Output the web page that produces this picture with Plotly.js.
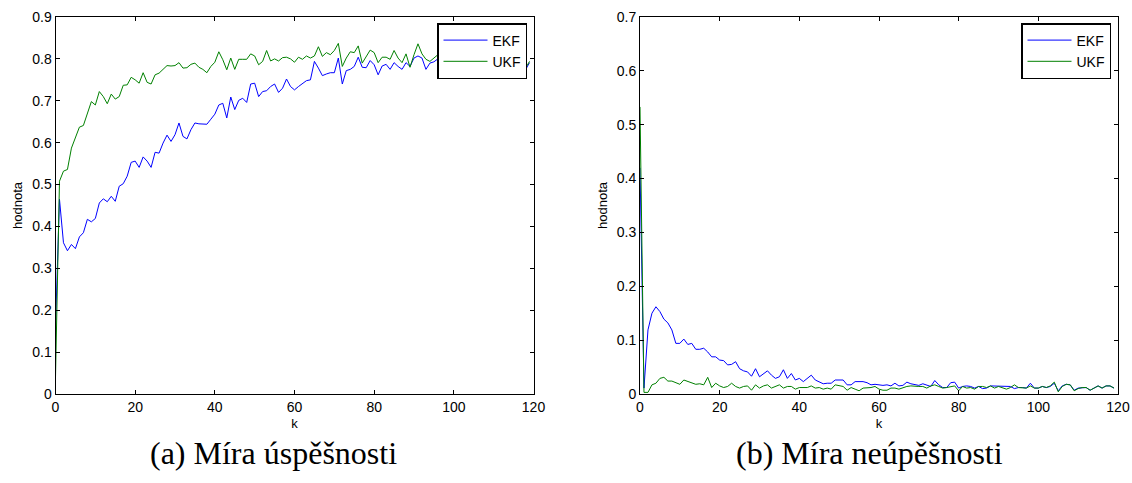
<!DOCTYPE html>
<html>
<head>
<meta charset="utf-8">
<script src="https://cdn.plot.ly/plotly-3.0.1.min.js"></script>
<style>
html,body{margin:0;padding:0;background:#fff;}
#chart{width:1132px;height:483px;}
</style>
</head>
<body>
<div id="chart"></div>
<script>
// k index (time step)
const k = [
  0,1,2,3,4,5,6,7,8,9,10,11,12,13,14,15,16,17,18,19,
  20,21,22,23,24,25,26,27,28,29,30,31,32,33,34,35,36,37,38,39,
  40,41,42,43,44,45,46,47,48,49,50,51,52,53,54,55,56,57,58,59,
  60,61,62,63,64,65,66,67,68,69,70,71,72,73,74,75,76,77,78,79,
  80,81,82,83,84,85,86,87,88,89,90,91,92,93,94,95,96,97,98,99,
  100,101,102,103,104,105,106,107,108,109,110,111,112,113,114,115,116,117,118,119
];

// (a) Míra úspěšnosti
const ekfSuccess = [
  0.160,0.465,0.361,0.342,0.357,0.347,0.375,0.385,0.417,0.411,
  0.419,0.456,0.466,0.459,0.472,0.460,0.496,0.502,0.520,0.553,
  0.556,0.541,0.566,0.556,0.541,0.577,0.575,0.599,0.618,0.603,
  0.619,0.647,0.615,0.609,0.631,0.647,0.645,0.644,0.644,0.656,
  0.668,0.690,0.694,0.659,0.709,0.679,0.701,0.706,0.696,0.740,
  0.742,0.710,0.722,0.724,0.734,0.740,0.720,0.730,0.752,0.734,
  0.726,0.734,0.742,0.748,0.750,0.794,0.778,0.760,0.764,0.767,
  0.767,0.802,0.740,0.772,0.775,0.782,0.804,0.780,0.779,0.796,
  0.786,0.762,0.783,0.787,0.775,0.791,0.782,0.775,0.791,0.782,
  0.802,0.807,0.802,0.775,0.790,0.793,0.800,0.795,0.805,0.800,
  0.790,0.798,0.802,0.795,0.766,0.792,0.798,0.804,0.800,0.795,
  0.810,0.800,0.803,0.798,0.805,0.800,0.796,0.802,0.774,0.791
];
const ukfSuccess = [
  0.040,0.508,0.532,0.536,0.587,0.611,0.637,0.641,0.671,0.698,
  0.690,0.722,0.710,0.693,0.716,0.704,0.710,0.737,0.738,0.756,
  0.750,0.742,0.767,0.744,0.740,0.762,0.766,0.776,0.784,0.783,
  0.784,0.791,0.778,0.779,0.787,0.790,0.780,0.775,0.767,0.782,
  0.792,0.817,0.798,0.774,0.802,0.775,0.799,0.799,0.799,0.812,
  0.807,0.786,0.794,0.820,0.795,0.800,0.795,0.803,0.804,0.800,
  0.792,0.804,0.799,0.807,0.802,0.807,0.829,0.806,0.815,0.810,
  0.820,0.837,0.782,0.802,0.817,0.815,0.831,0.790,0.807,0.821,
  0.815,0.791,0.804,0.804,0.799,0.820,0.802,0.791,0.812,0.780,
  0.810,0.836,0.812,0.799,0.794,0.802,0.810,0.805,0.820,0.800,
  0.795,0.812,0.806,0.800,0.815,0.798,0.808,0.810,0.800,0.812,
  0.805,0.795,0.808,0.800,0.810,0.803,0.800,0.806,0.778,0.794
];

// (b) Míra neúpěšnosti
const ekfFailure = [
  0.420,0.011,0.119,0.150,0.162,0.153,0.139,0.132,0.119,0.094,
  0.094,0.102,0.092,0.094,0.083,0.083,0.085,0.078,0.069,0.069,
  0.063,0.062,0.054,0.055,0.060,0.047,0.043,0.041,0.033,0.047,
  0.032,0.038,0.043,0.035,0.029,0.032,0.045,0.029,0.038,0.026,
  0.029,0.023,0.029,0.035,0.026,0.023,0.019,0.020,0.020,0.026,
  0.026,0.026,0.017,0.017,0.023,0.023,0.023,0.021,0.017,0.018,
  0.017,0.016,0.017,0.015,0.020,0.015,0.016,0.022,0.019,0.017,
  0.016,0.019,0.017,0.014,0.025,0.017,0.012,0.012,0.021,0.022,
  0.011,0.014,0.015,0.014,0.011,0.014,0.010,0.011,0.015,0.015,
  0.014,0.014,0.015,0.014,0.010,0.012,0.012,0.011,0.020,0.011,
  0.011,0.014,0.012,0.014,0.020,0.006,0.015,0.018,0.017,0.007,
  0.011,0.011,0.012,0.007,0.011,0.015,0.011,0.015,0.015,0.011
];
const ukfFailure = [
  0.533,0.003,0.003,0.017,0.020,0.029,0.031,0.024,0.024,0.021,
  0.018,0.026,0.023,0.021,0.018,0.019,0.017,0.031,0.012,0.020,
  0.015,0.012,0.014,0.020,0.014,0.011,0.014,0.015,0.007,0.017,
  0.011,0.015,0.017,0.011,0.014,0.017,0.011,0.014,0.014,0.009,
  0.012,0.012,0.012,0.015,0.011,0.012,0.009,0.011,0.009,0.017,
  0.015,0.014,0.007,0.012,0.009,0.006,0.011,0.011,0.012,0.014,
  0.009,0.007,0.007,0.011,0.011,0.009,0.012,0.014,0.015,0.014,
  0.014,0.014,0.011,0.015,0.017,0.014,0.011,0.012,0.014,0.015,
  0.006,0.014,0.011,0.012,0.009,0.014,0.014,0.012,0.015,0.011,
  0.014,0.012,0.009,0.012,0.017,0.012,0.011,0.011,0.015,0.011,
  0.011,0.014,0.012,0.015,0.022,0.004,0.014,0.018,0.017,0.006,
  0.010,0.012,0.012,0.007,0.011,0.015,0.011,0.015,0.015,0.011
];

const seriesNames = ['EKF', 'UKF'];
const captions = ['(a) Míra úspěšnosti', '(b) Míra neúpěšnosti'];
const yTitle = 'hodnota';
const xTitle = 'k';

const BLUE = '#0000ff', GREEN = '#008000';
const W = 1132, H = 483;

const traces = [
  {x: k, y: ekfSuccess, name: seriesNames[0], type: 'scatter', mode: 'lines', line: {color: BLUE, width: 1}, xaxis: 'x', yaxis: 'y', legend: 'legend'},
  {x: k, y: ukfSuccess, name: seriesNames[1], type: 'scatter', mode: 'lines', line: {color: GREEN, width: 1}, xaxis: 'x', yaxis: 'y', legend: 'legend'},
  {x: k, y: ekfFailure, name: seriesNames[0], type: 'scatter', mode: 'lines', line: {color: BLUE, width: 1}, xaxis: 'x2', yaxis: 'y2', legend: 'legend2'},
  {x: k, y: ukfFailure, name: seriesNames[1], type: 'scatter', mode: 'lines', line: {color: GREEN, width: 1}, xaxis: 'x2', yaxis: 'y2', legend: 'legend2'}
];

const tickFont = {family: 'Liberation Sans, Arial, sans-serif', size: 14, color: '#000'};
const titleFont = {family: 'Liberation Sans, Arial, sans-serif', size: 13, color: '#000'};

function xAxis(domain, anchor) {
  return {
    domain: domain, anchor: anchor, range: [0, 120], dtick: 20, tick0: 0,
    ticks: 'inside', ticklen: 4, tickcolor: '#000', tickwidth: 1,
    showline: true, linecolor: '#000', linewidth: 1, mirror: 'allticks',
    showgrid: false, zeroline: false, tickfont: tickFont,
    title: {text: xTitle, font: titleFont, standoff: 5}
  };
}
function yAxis(domain, anchor, maxv) {
  return {
    domain: domain, anchor: anchor, range: [0, maxv], dtick: 0.1, tick0: 0,
    ticks: 'inside', ticklen: 4, tickcolor: '#000', tickwidth: 1,
    showline: true, linecolor: '#000', linewidth: 1, mirror: 'allticks',
    showgrid: false, zeroline: false, tickfont: tickFont,
    tickformat: '~g',
    title: {text: yTitle, font: titleFont, standoff: 6}
  };
}

const yDom = [1 - 394 / H, 1 - 17 / H];
const legendBase = {
  yanchor: 'top', xanchor: 'right', y: 1 - 23 / H,
  bgcolor: '#fff', bordercolor: '#000', borderwidth: 1.5,
  font: {family: 'Liberation Sans, Arial, sans-serif', size: 14, color: '#000'},
  tracegroupgap: 0, itemwidth: 44
};

const capFont = {family: 'Liberation Serif, Times New Roman, serif', size: 32, color: '#000'};

const layout = {
  width: W, height: H,
  margin: {l: 0, r: 0, t: 0, b: 0},
  paper_bgcolor: '#fff', plot_bgcolor: '#fff',
  showlegend: true,
  xaxis: xAxis([55.5 / W, 533.5 / W], 'y'),
  yaxis: yAxis(yDom, 'x', 0.9),
  xaxis2: xAxis([640 / W, 1118 / W], 'y2'),
  yaxis2: yAxis(yDom, 'x2', 0.7),
  legend: Object.assign({}, legendBase, {x: 527 / W}),
  legend2: Object.assign({}, legendBase, {x: 1111 / W}),
  annotations: [
    {text: captions[0], xref: 'paper', yref: 'paper', x: 273 / W, y: 1 - 453 / H, xanchor: 'center', yanchor: 'middle', showarrow: false, font: capFont},
    {text: captions[1], xref: 'paper', yref: 'paper', x: 869 / W, y: 1 - 453 / H, xanchor: 'center', yanchor: 'middle', showarrow: false, font: capFont}
  ]
};

Plotly.newPlot('chart', traces, layout, {staticPlot: true, displayModeBar: false});
</script>
</body>
</html>
